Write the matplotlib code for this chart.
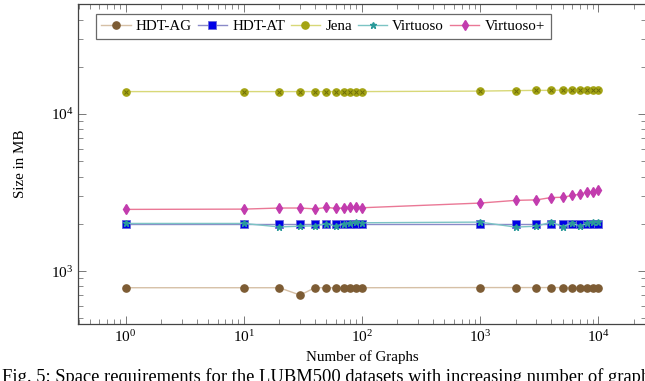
import numpy as np
import matplotlib
matplotlib.use("Agg")
import matplotlib.pyplot as plt

plt.rcParams['font.family'] = ['Liberation Serif', 'DejaVu Serif']
plt.rcParams['mathtext.fontset'] = 'cm'

graphs = [1, 10, 20, 30, 40, 50, 60, 70, 80, 90, 100,
          1000, 2000, 3000, 4000, 5000, 6000, 7000, 8000, 9000, 10000]

hdt_ag = [783, 783, 783, 703, 783, 783, 783, 783, 783, 783, 783,
          785, 785, 785, 785, 785, 785, 785, 785, 785, 785]
hdt_at = [2000, 2000, 2000, 2000, 2000, 2000, 2000, 2000, 2000, 2000, 2000,
          2000, 2000, 2000, 2000, 2000, 2000, 2000, 2000, 2000, 2000]
jena = [13900, 13900, 13900, 13900, 13900, 13900, 13900, 13900, 13900, 13900, 13900,
        14000, 14100, 14150, 14150, 14200, 14200, 14200, 14220, 14220, 14250]
virtuoso = [2010, 2010, 1910, 1930, 1940, 2000, 1930, 1990, 2010, 2040, 2030,
            2050, 1905, 1930, 2050, 1920, 2020, 1930, 2010, 2040, 2050]
virtuoso_p = [2470, 2480, 2520, 2520, 2490, 2540, 2510, 2520, 2550, 2560, 2530,
              2710, 2820, 2840, 2940, 2950, 3030, 3090, 3170, 3200, 3270]

fig = plt.figure(figsize=(6.45, 3.81), dpi=100)
ax = fig.add_axes([78.3/645, 1-324/381, (645.5-78.3)/645, (324-4.3)/381])

ax.plot(graphs, hdt_ag, color='#d6c0a6', lw=1.0, marker='o', ms=5.2,
        mfc='#7d5c34', mec='#7d5c34', label='HDT-AG')
ax.plot(graphs, hdt_at, color='#8a8ac8', lw=1.0, marker='s', ms=5.4,
        mfc='#0000e6', mec='#6a6ad8', mew=0.6, label='HDT-AT')
ax.plot(graphs, jena, color='#d8d878', lw=1.0, marker='o', ms=5.2,
        mfc='#a4a414', mec='#a4a414', label='Jena')
ax.plot(graphs, jena, color='none', marker='x', ms=3, mec='#6e6e08', mew=0.7)
ax.plot(graphs, virtuoso, color='#7cc4c4', lw=1.0, marker='*', ms=5,
        mfc='#2a9a9a', mec='#2a9a9a', label='Virtuoso')
ax.plot(graphs, virtuoso_p, color='#ea7896', lw=1.0, marker='d', ms=5,
        mfc='#c23cae', mec='#c23cae', label='Virtuoso+')

ax.set_xscale('log')
ax.set_yscale('log')
ax.set_xlim(10**-0.4, 10**4.4)
ax.set_ylim(460, 50000)

for s in ax.spines.values():
    s.set_color('#444444')
    s.set_linewidth(0.9)
ax.tick_params(which='both', direction='in', top=True, right=True, colors='#777777',
               labelcolor='black', labelsize=11)
ax.tick_params(which='major', length=6, width=0.7)
ax.tick_params(which='minor', length=3.5, width=0.6)
ax.xaxis.set_minor_locator(matplotlib.ticker.LogLocator(base=10, subs=np.arange(2, 10)))
ax.xaxis.set_major_locator(matplotlib.ticker.LogLocator(base=10, numticks=10))

ax.set_xlabel('Number of Graphs', fontsize=10.8, labelpad=4)
ax.set_ylabel('Size in MB', fontsize=10.8, labelpad=17)

leg = ax.legend(loc='upper left', bbox_to_anchor=(17.4/567, 1-9.7/320), ncol=5,
                fontsize=10.8, frameon=True, fancybox=False, handlelength=1.95,
                handletextpad=0.34, columnspacing=0.4, borderpad=0.38,
                borderaxespad=0)
leg.get_frame().set_edgecolor('#444444')
leg.get_frame().set_linewidth(0.9)

fig.text(0.003, 1-368/381, 'Fig. 5: Space requirements for the LUBM500 datasets with increasing number of graphs',
         fontsize=13.3, va='top', ha='left')

fig.savefig('out.png', dpi=100)
